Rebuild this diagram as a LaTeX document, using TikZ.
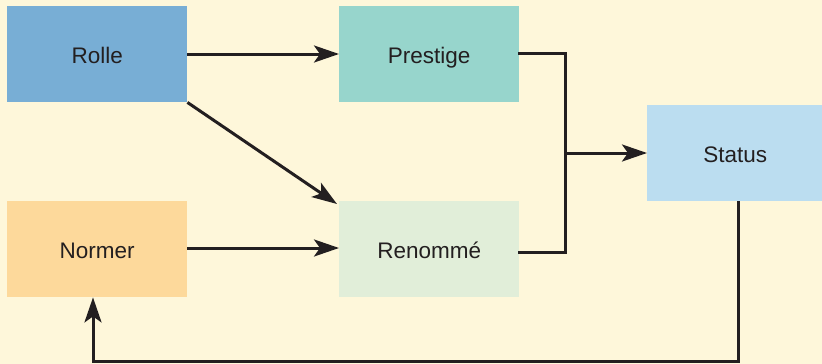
\documentclass[tikz,border=0pt]{standalone}
\usepackage{fontspec}
\setmainfont{Liberation Sans}
\usetikzlibrary{arrows.meta}
\definecolor{bg}{HTML}{FEF7DA}
\definecolor{rolle}{HTML}{78AED5}
\definecolor{prestige}{HTML}{97D5CC}
\definecolor{renomme}{HTML}{E1EED9}
\definecolor{normer}{HTML}{FDD99B}
\definecolor{status}{HTML}{BBDDF0}
\definecolor{ink}{HTML}{231F20}
\tikzset{
  box/.style={minimum width=180pt, minimum height=96pt, inner sep=0pt, text=ink,
    text height=20pt, text depth=1pt,
    font=\fontsize{22.5}{27}\selectfont},
  link/.style={draw=ink, line width=3pt, -{Stealth[length=25pt,width=17pt,inset=6pt]}},
  seg/.style={draw=ink, line width=3pt},
}
\begin{document}
\begin{tikzpicture}[x=1pt,y=-1pt]
  \fill[bg] (0,0) rectangle (822,364);
  \useasboundingbox (0,0) rectangle (822,364);
  \node[box, fill=rolle, anchor=north west] (rolle) at (7,6) {Rolle};
  \node[box, fill=prestige, anchor=north west] (prestige) at (339,6) {Prestige};
  \node[box, fill=normer, anchor=north west] (normer) at (7,201) {Normer};
  \node[box, fill=renomme, anchor=north west] (renomme) at (339,201) {Renommé};
  \node[box, fill=status, anchor=north west, minimum width=176pt] (status) at (647,105) {Status};
  % junction collecting prestige and renommée
  \coordinate (jtop) at (565,53);
  \coordinate (jbot) at (565,252);
  \coordinate (jmid) at (565,153);
  \coordinate (fbA) at (738,361);
  \coordinate (fbB) at (93,361);
  \draw[link] (rolle.east |- 0,54) -- (prestige.west |- 0,54);
  \draw[link] (rolle.south east) -- ([xshift=-2pt,yshift=-3pt]renomme.north west);
  \draw[link] (normer.east |- 0,248) -- (renomme.west |- 0,248);
  \draw[seg, line cap=rect] (prestige.east |- jtop) -- (jtop) -- (jbot) -- (renomme.east |- jbot);
  \draw[link] (jmid) -- (status.west |- jmid);
  \draw[link] (status.south -| fbA) -- (fbA) -- (fbB) -- (normer.south -| fbB);
\end{tikzpicture}
\end{document}
